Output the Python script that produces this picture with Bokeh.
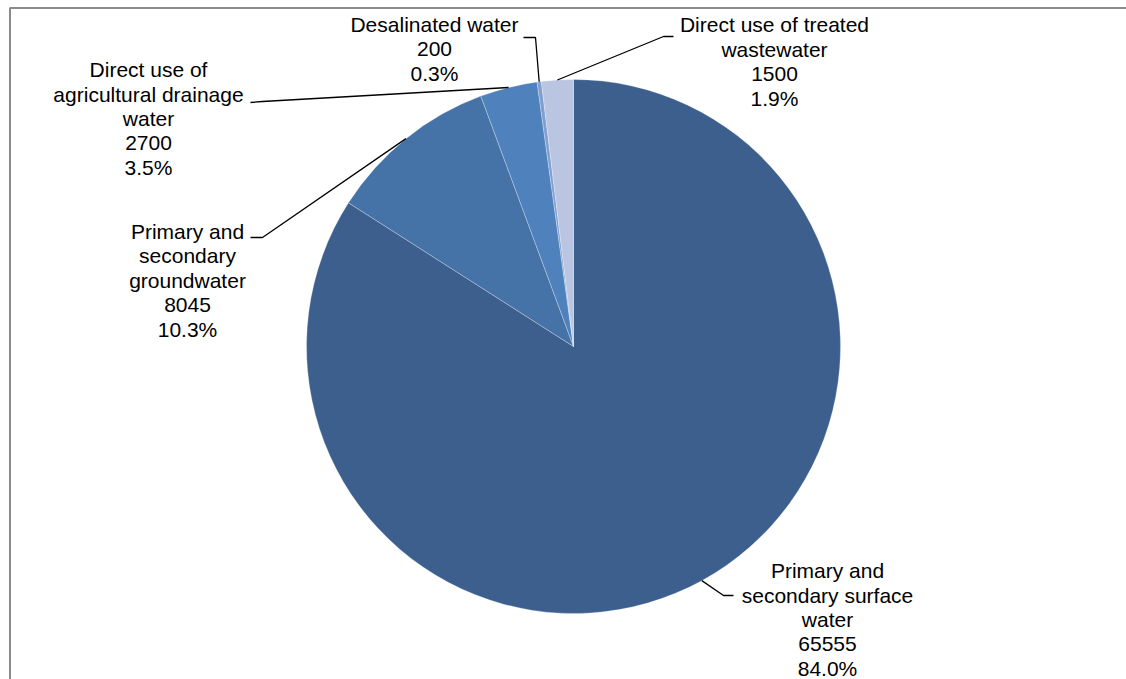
import math
from bokeh.plotting import figure
from bokeh.models import Range1d
from bokeh.core.properties import value
from bokeh.embed import file_html
from bokeh.resources import INLINE

# Water sources (million m3) and their shares
categories = [
    "Primary and secondary surface water",
    "Primary and secondary groundwater",
    "Direct use of agricultural drainage water",
    "Desalinated water",
    "Direct use of treated wastewater",
]
values = [65555, 8045, 2700, 200, 1500]
name_lines = [
    ["Primary and", "secondary surface", "water"],
    ["Primary and", "secondary", "groundwater"],
    ["Direct use of", "agricultural drainage", "water"],
    ["Desalinated water"],
    ["Direct use of treated", "wastewater"],
]
colors = ["#3D5F8D", "#4572A7", "#4F81BD", "#809FD0", "#BAC6E1"]

W, H = 1126, 679
CX, CY, R = 573, 346, 267          # pie centre / radius in page pixels
FONT = value("Liberation Sans")
LINE_STEP = 24.6

# label block centre x, first baseline y, text-side end of leader, elbow
label_layout = [
    dict(cx=827, y0=570, end=(733, 595), elbow=(723, 595)),
    dict(cx=187, y0=230.5, end=(250, 237), elbow=(262, 237)),
    dict(cx=148, y0=69, end=(250, 102), elbow=(262, 101)),
    dict(cx=434, y0=24, end=(523, 37), elbow=(535, 37)),
    dict(cx=774, y0=24, end=(673, 36), elbow=(663, 36)),
]


def fy(py):
    """page pixel row -> data y"""
    return H - py


p = figure(width=W, height=H, x_range=Range1d(0, W), y_range=Range1d(0, H),
           output_backend="svg", toolbar_location=None, min_border=0)
p.axis.visible = False
p.grid.visible = False
p.outline_line_color = None
p.background_fill_color = "white"
p.border_fill_color = "white"

# chart-area frame (left and top edges visible)
p.line([9.5, 9.5, W + 5], [fy(H + 5), fy(7.5), fy(7.5)],
       line_color="#8A8A8A", line_width=2)

total = sum(values)
shares = [v / total for v in values]

# slices run clockwise from 12 o'clock
starts, ends, mids = [], [], []
acc = 0.0
for s in shares:
    a0 = math.pi / 2 - 2 * math.pi * acc
    a1 = math.pi / 2 - 2 * math.pi * (acc + s)
    starts.append(a0)
    ends.append(a1)
    mids.append((a0 + a1) / 2)
    acc += s

p.wedge(x=[CX] * len(values), y=[fy(CY)] * len(values), radius=R,
        start_angle=starts, end_angle=ends, direction="clock",
        fill_color=colors, line_color="white", line_alpha=0.35,
        line_width=0.8)

# leader lines and labels
xs_lead, ys_lead = [], []
tx, ty, tt = [], [], []
for i, lay in enumerate(label_layout):
    ax = CX + R * math.cos(mids[i])
    ay = fy(CY) + R * math.sin(mids[i])
    xs_lead.append([lay["end"][0], lay["elbow"][0], ax])
    ys_lead.append([fy(lay["end"][1]), fy(lay["elbow"][1]), ay])
    lines = name_lines[i] + [str(values[i]), f"{shares[i] * 100:.1f}%"]
    for k, ln in enumerate(lines):
        tx.append(lay["cx"])
        ty.append(fy(lay["y0"] + k * LINE_STEP))
        tt.append(ln)

p.multi_line(xs_lead, ys_lead, line_color="black", line_width=1.3)
p.text(x=tx, y=ty, text=tt, text_font=FONT, text_font_size="21px",
       text_align="center", text_baseline="alphabetic", text_color="#000000")

open("out.html", "w").write(file_html(p, INLINE))
